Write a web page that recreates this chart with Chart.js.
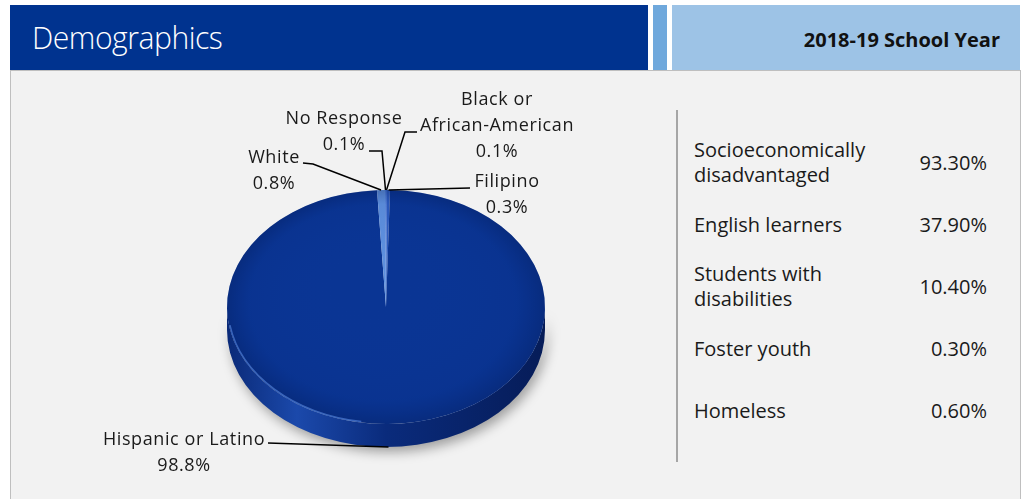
<!DOCTYPE html>
<html>
<head>
<meta charset="utf-8">
<script src="https://cdn.jsdelivr.net/npm/chart.js@4.4.1/dist/chart.umd.min.js"></script>
<style>
  body { margin: 0; background: #fff; width: 1024px; height: 499px; overflow: hidden; position: relative; font-family: "Open Sans", sans-serif; }
  .hdr-main { position: absolute; left: 10px; top: 5px; width: 638px; height: 65px; background: #00338f; }
  .hdr-main span { position: absolute; left: 22px; top: 10px; color: #fff; font-size: 32px; font-weight: 300; letter-spacing: -0.5px; display: inline-block; transform: scaleX(0.94); transform-origin: left center; }
  .hdr-strip { position: absolute; left: 653px; top: 5px; width: 14px; height: 65px; background: #6fa8dc; }
  .hdr-year { position: absolute; left: 672px; top: 5px; width: 348px; height: 65px; background: #9dc3e6; }
  .hdr-year span { position: absolute; right: 20px; top: 21px; font-size: 20px; font-weight: 700; color: #111; }
  .panel { position: absolute; left: 10px; top: 70px; width: 1009px; height: 440px; background: #f2f2f2; border: 1px solid #bfbfbf; }
  #pie { position: absolute; left: 11px; top: 71px; }
  .vline { position: absolute; left: 676px; top: 110px; width: 2px; height: 352px; background: #a6a6a6; }
  #stats { position: absolute; left: 694px; top: 131px; width: 293px; }
  .row { height: 62px; display: flex; align-items: center; justify-content: space-between; font-size: 20px; color: #1a1a1a; line-height: 25px; }
</style>
</head>
<body>
<div class="hdr-main"><span>Demographics</span></div>
<div class="hdr-strip"></div>
<div class="hdr-year"><span>2018-19 School Year</span></div>
<div class="panel"></div>
<canvas id="pie" width="640" height="427"></canvas>
<div class="vline"></div>
<div id="stats"></div>
<script>
// ethnicity breakdown (percent of students)
var groups = [["Black or", "African-American"], ["Filipino"], ["Hispanic or Latino"], ["White"], ["No Response"]];
var shares = [0.1, 0.3, 98.8, 0.8, 0.1];
var sliceColors = ["#3b6cd0", "#2d5cc0", "#0a3594", "#5e90de", "#4a7bd8"];

// student group table
var statLabels = ["Socioeconomically<br>disadvantaged", "English learners", "Students with<br>disabilities", "Foster youth", "Homeless"];
var statValues = ["93.30%", "37.90%", "10.40%", "0.30%", "0.60%"];

var stats = document.getElementById("stats");
for (var i = 0; i < statLabels.length; i++) {
  var row = document.createElement("div");
  row.className = "row";
  row.innerHTML = "<div>" + statLabels[i] + "</div><div>" + statValues[i] + "</div>";
  stats.appendChild(row);
}

// where each label sits, relative to the pie centre
var labelSpots = [
  {tx: 111, ty: -207, ex: 19, ey: -175, lx: 31, ly: -175},
  {tx: 121, ty: -125, ex: 84, ey: -119, lx: 84, ly: -119},
  {tx: -202, ty: 133, ex: -118, ey: 136, lx: -118, ly: 136},
  {tx: -112, ty: -149, ex: -73, ey: -143, lx: -83, ly: -144},
  {tx: -42, ty: -188, ex: -4, ey: -156, lx: -17, ly: -156}
];

const tilt = 0.736, depth = 23;

const pie3d = {
  id: "pie3d",
  beforeDatasetsDraw(chart) {
    const arc = chart.getDatasetMeta(0).data[0];
    const x = arc.x, y = arc.y, r = arc.outerRadius, ry = r * tilt;
    const ctx = chart.ctx;
    ctx.save();
    ctx.shadowColor = "rgba(0,0,0,0.35)";
    ctx.shadowBlur = 12;
    ctx.shadowOffsetX = 3;
    ctx.shadowOffsetY = 5;
    const g = ctx.createLinearGradient(x - r, 0, x + r, 0);
    g.addColorStop(0, "#0a2a78");
    g.addColorStop(0.22, "#1b49ab");
    g.addColorStop(0.5, "#0a2b7c");
    g.addColorStop(1, "#061c58");
    ctx.fillStyle = g;
    ctx.beginPath();
    ctx.ellipse(x, y + depth, r, ry, 0, 0, Math.PI);
    ctx.lineTo(x - r, y);
    ctx.ellipse(x, y, r, ry, 0, Math.PI, 0, true);
    ctx.closePath();
    ctx.fill();
    ctx.restore();
    ctx.save();
    ctx.translate(x, y);
    ctx.scale(1, tilt);
    ctx.translate(-x, -y);
  },
  afterDatasetsDraw(chart) {
    const arc = chart.getDatasetMeta(0).data[0];
    const x = arc.x, y = arc.y, r = arc.outerRadius;
    const ctx = chart.ctx;
    // soft shading on the top face
    const rg = ctx.createRadialGradient(x - r * 0.1, y - r * 0.2, r * 0.2, x, y, r);
    rg.addColorStop(0, "rgba(20,60,170,0.0)");
    rg.addColorStop(0.8, "rgba(0,20,80,0.05)");
    rg.addColorStop(1, "rgba(0,15,60,0.25)");
    ctx.fillStyle = rg;
    ctx.beginPath();
    ctx.arc(x, y, r, 0, Math.PI * 2);
    ctx.fill();
    ctx.restore();
    // light rim on lower left edge
    ctx.save();
    ctx.strokeStyle = "rgba(90,140,230,0.6)";
    ctx.lineWidth = 1.5;
    ctx.beginPath();
    ctx.ellipse(x, y, r - 1, r * tilt - 1, 0, Math.PI * 0.55, Math.PI * 0.95);
    ctx.stroke();
    ctx.restore();
  },
  afterDraw(chart) {
    const meta = chart.getDatasetMeta(0);
    const ctx = chart.ctx;
    ctx.save();
    ctx.strokeStyle = "#000";
    ctx.lineWidth = 1.5;
    ctx.fillStyle = "#1a1a1a";
    ctx.font = "18px 'Open Sans'";
    ctx.letterSpacing = "0.6px";
    ctx.textAlign = "center";
    ctx.textBaseline = "middle";
    meta.data.forEach(function (arc, i) {
      const x = arc.x, y = arc.y, r = arc.outerRadius;
      const a = (arc.startAngle + arc.endAngle) / 2;
      const s = Math.sin(a);
      const ax = x + r * Math.cos(a);
      const ay = y + r * tilt * s + (s > 0 ? depth * s : 0);
      const p = labelSpots[i];
      ctx.beginPath();
      ctx.moveTo(ax, ay);
      ctx.lineTo(x + p.ex, y + p.ey);
      ctx.lineTo(x + p.lx, y + p.ly);
      ctx.stroke();
      const lines = groups[i].concat([shares[i].toFixed(1) + "%"]);
      lines.forEach(function (t, j) {
        ctx.fillText(t, x + p.tx, y + p.ty + j * 26);
      });
    });
    ctx.restore();
  }
};

new Chart(document.getElementById("pie"), {
  type: "pie",
  data: {
    labels: groups.map(function (g) { return g.join(" "); }),
    datasets: [{
      data: shares,
      backgroundColor: sliceColors,
      borderWidth: 0,
      clip: false
    }]
  },
  options: {
    responsive: false,
    animation: false,
    events: [],
    layout: { padding: { left: 216, right: 106, top: 77, bottom: 32 } },
    plugins: { legend: { display: false }, tooltip: { enabled: false } }
  },
  plugins: [pie3d]
});
</script>
</body>
</html>
